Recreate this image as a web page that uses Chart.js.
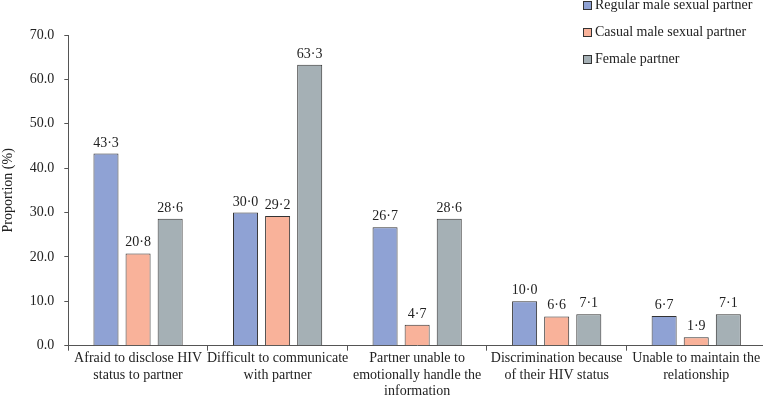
<!DOCTYPE html>
<html>
<head>
<meta charset="utf-8">
<script src="https://cdn.jsdelivr.net/npm/chart.js@4/dist/chart.umd.min.js"></script>
<style>
  html, body { margin: 0; padding: 0; background: #fff; }
  #wrap { position: relative; width: 763px; height: 398px; overflow: hidden; }
  #legend { position: absolute; left: 583px; top: -3px; font-family: "Liberation Serif", serif; font-size: 14px; color: #222; }
  .item { height: 27px; line-height: 16px; display: flex; align-items: flex-start; }
  .box { width: 7px; height: 7px; border: 1px solid #333; margin: 4px 3px 0 0; }
</style>
</head>
<body>
<div id="wrap">
  <canvas id="chart" width="770" height="399"></canvas>
  <div id="legend"></div>
</div>
<script>
// Chart data
const categories = [
  ['Afraid to disclose HIV', 'status to partner'],
  ['Difficult to communicate', 'with partner'],
  ['Partner unable to', 'emotionally handle the', 'information'],
  ['Discrimination because', 'of their HIV status'],
  ['Unable to maintain the', 'relationship']
];
const seriesNames = ['Regular male sexual partner', 'Casual male sexual partner', 'Female partner'];
const regularMale = [43.3, 30.0, 26.7, 10.0, 6.7];
const casualMale = [20.8, 29.2, 4.7, 6.6, 1.9];
const femalePartner = [28.6, 63.3, 28.6, 7.1, 7.1];
const colors = ['#8fa2d4', '#f9b29a', '#a5b0b5'];

const serif = '"Liberation Serif", "Times New Roman", serif';

// Value labels above bars, with middle dot as decimal mark
const valueLabels = {
  id: 'valueLabels',
  afterDatasetsDraw(chart) {
    const ctx = chart.ctx;
    ctx.save();
    ctx.font = '14px ' + serif;
    ctx.fillStyle = '#222';
    ctx.textAlign = 'center';
    ctx.textBaseline = 'alphabetic';
    chart.data.datasets.forEach((ds, i) => {
      chart.getDatasetMeta(i).data.forEach((bar, j) => {
        ctx.fillText(ds.data[j].toFixed(1).replace('.', '\u00b7'), bar.x, bar.y - 7);
      });
    });
    ctx.restore();
  }
};

const seriesData = [regularMale, casualMale, femalePartner];

new Chart(document.getElementById('chart'), {
  type: 'bar',
  data: {
    labels: categories,
    datasets: seriesData.map((d, i) => ({
      label: seriesNames[i],
      data: d,
      backgroundColor: colors[i],
      borderColor: '#333',
      borderWidth: 1,
      categoryPercentage: 0.69,
      barPercentage: 0.78
    }))
  },
  options: {
    responsive: false,
    animation: false,
    layout: { padding: { top: 35, left: 0, right: 4, bottom: 0 } },
    plugins: {
      legend: { display: false },
      tooltip: { enabled: false }
    },
    scales: {
      x: {
        grid: { offset: true, drawOnChartArea: false, drawTicks: true, tickLength: 5, color: '#555' },
        border: { color: '#555' },
        ticks: { color: '#222', font: { family: serif, size: 14, lineHeight: 1.15 }, padding: 0, maxRotation: 0, autoSkip: false }
      },
      y: {
        min: 0,
        max: 70,
        ticks: {
          stepSize: 10,
          color: '#222',
          font: { family: serif, size: 14 },
          padding: 10,
          callback: v => v.toFixed(1)
        },
        grid: { drawOnChartArea: false, drawTicks: true, tickLength: 4, color: '#555' },
        border: { color: '#555' },
        title: { display: true, text: 'Proportion (%)', color: '#222', font: { family: serif, size: 14 }, padding: { top: 0, bottom: 3 } }
      }
    }
  },
  plugins: [valueLabels]
});

// Vertical legend in the top right
const legend = document.getElementById('legend');
seriesNames.forEach((name, i) => {
  const item = document.createElement('div');
  item.className = 'item';
  const box = document.createElement('span');
  box.className = 'box';
  box.style.background = colors[i];
  const text = document.createElement('span');
  text.textContent = name;
  item.appendChild(box);
  item.appendChild(text);
  legend.appendChild(item);
});
</script>
</body>
</html>
